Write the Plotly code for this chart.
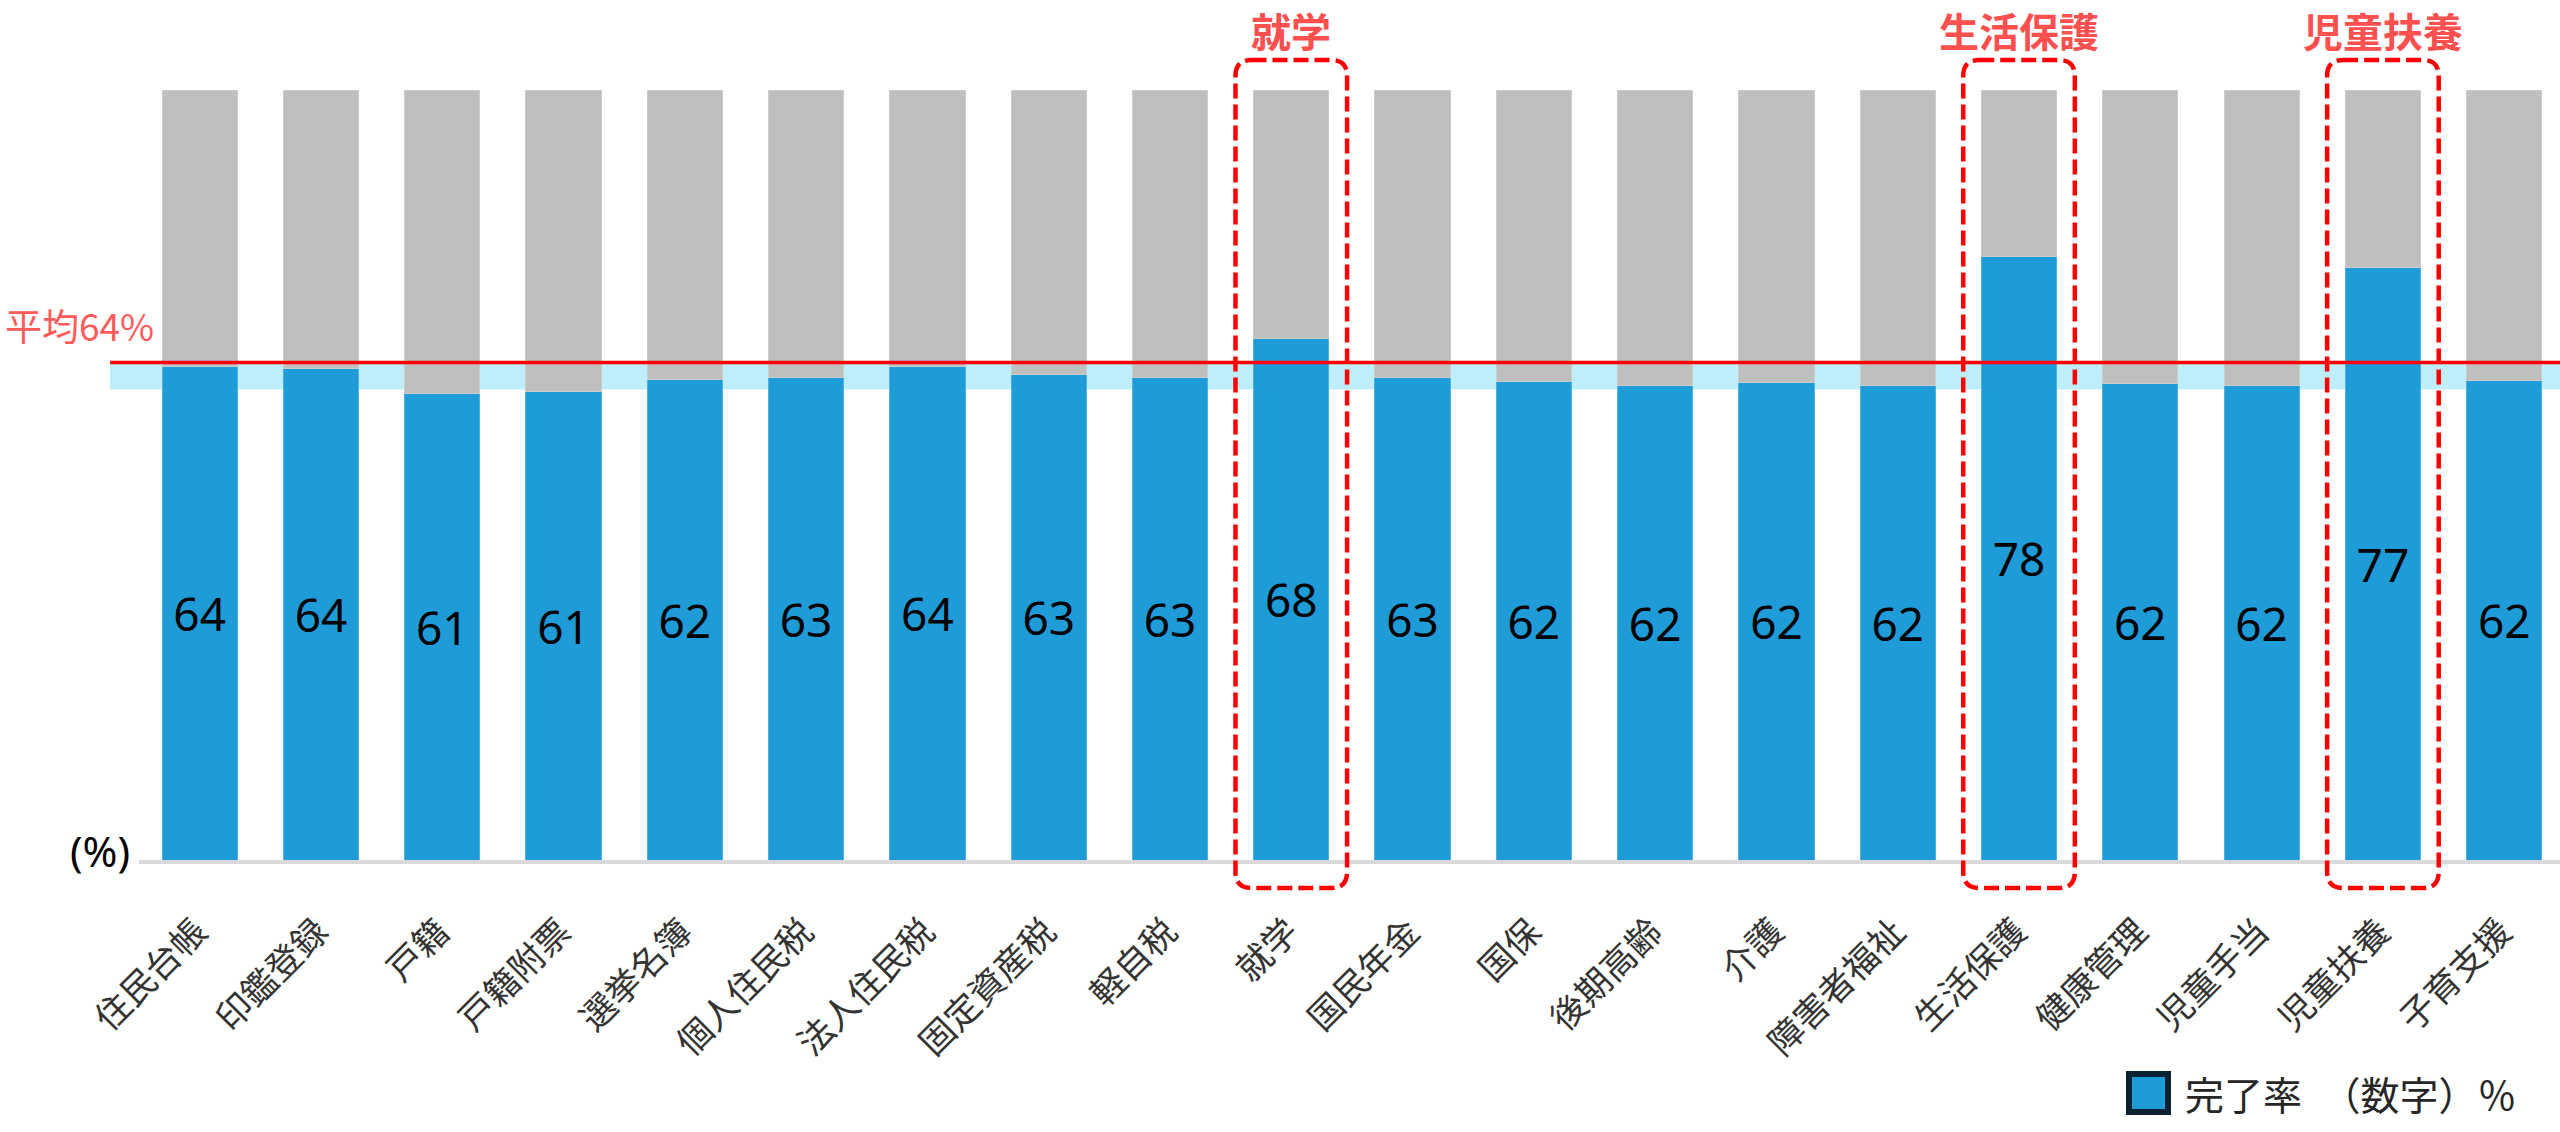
import plotly.graph_objects as go

# ---------------- data ----------------
categories = ["住民台帳", "印鑑登録", "戸籍", "戸籍附票", "選挙名簿", "個人住民税", "法人住民税",
              "固定資産税", "軽自税", "就学", "国民年金", "国保", "後期高齢", "介護", "障害者福祉",
              "生活保護", "健康管理", "児童手当", "児童扶養", "子育支援"]
completion = [64.1, 63.8, 60.6, 60.8, 62.4, 62.6, 64.1, 63.0, 62.7, 67.7,
              62.6, 62.2, 61.6, 62.0, 61.6, 78.4, 61.9, 61.6, 76.9, 62.3]
remaining = [100 - v for v in completion]
highlighted = ["就学", "生活保護", "児童扶養"]
avg_label = "平均64%"
avg_line = 64.6
avg_band = [61.1, 64.6]
legend_text = "完了率　（数字）％"
unit_text = "(%)"

# ---------------- geometry helpers (layout only) ----------------
W, H = 2560, 1132
ML, MR, MT, MB = 139, 0, 90, 272
PW, PH = W - ML - MR, H - MT - MB
XMIN, XMAX = -0.5, 19.46
YMIN, YMAX = 0, 100

def xp(i):  # category index -> paper x
    return (i - XMIN) / (XMAX - XMIN)

def yp(v):  # value -> paper y
    return (v - YMIN) / (YMAX - YMIN)

def pxx(px):  # pixel x -> paper
    return (px - ML) / PW

def pxy(py):  # pixel y -> paper
    return (H - MB - py) / PH

BLUE = "#1F9BD7"
GRAY = "#BFBFBF"
RED = "#FF0000"
LABEL_RED = "#FF5050"

fig = go.Figure()
fig.add_trace(go.Bar(
    x=categories, y=completion, marker=dict(color=BLUE, line=dict(width=1, color="#4FB0E0")),
    texttemplate="%{y:.0f}", textposition="inside", insidetextanchor="middle",
    textangle=0, constraintext="none",
    textfont=dict(family="Noto Sans", size=46, color="#000000"),
    showlegend=False, name="完了率"))
fig.add_trace(go.Bar(
    x=categories, y=remaining, marker=dict(color=GRAY, line=dict(width=1, color="#CCCCCC")),
    showlegend=False, hoverinfo="skip", name="未完了"))

shapes = []
# light blue band (below bars)
shapes.append(dict(type="rect", xref="paper", yref="paper",
                   x0=pxx(110), x1=1, y0=yp(avg_band[0]), y1=yp(avg_band[1]),
                   fillcolor="#BDEEFA", line=dict(width=0), layer="below"))
# average line
shapes.append(dict(type="line", xref="paper", yref="paper",
                   x0=pxx(110), x1=1, y0=yp(avg_line), y1=yp(avg_line),
                   line=dict(color=RED, width=3.5), layer="above"))

# dashed rounded boxes around highlighted categories
half = 0.46
for name in highlighted:
    i = categories.index(name)
    x0, x1 = xp(i - half), xp(i + half)
    y1, y0 = pxy(60), pxy(888)
    rxp = 16 / PW
    ryp = 16 / PH
    path = (f"M {x0 + rxp},{y1} L {x1 - rxp},{y1} Q {x1},{y1} {x1},{y1 - ryp} "
            f"L {x1},{y0 + ryp} Q {x1},{y0} {x1 - rxp},{y0} "
            f"L {x0 + rxp},{y0} Q {x0},{y0} {x0},{y0 + ryp} "
            f"L {x0},{y1 - ryp} Q {x0},{y1} {x0 + rxp},{y1} Z")
    shapes.append(dict(type="path", xref="paper", yref="paper", path=path,
                       line=dict(color=RED, width=4.5, dash="15px,6px"),
                       fillcolor="rgba(0,0,0,0)", layer="above"))

# legend swatch
shapes.append(dict(type="rect", xref="paper", yref="paper",
                   x0=pxx(2129), x1=pxx(2168), y0=pxy(1112), y1=pxy(1074),
                   fillcolor=BLUE, line=dict(color="#0B2233", width=6)))

annotations = []
for name in highlighted:
    i = categories.index(name)
    annotations.append(dict(x=xp(i), y=pxy(30), xref="paper", yref="paper",
                            text=f"<b>{name}</b>", showarrow=False,
                            xanchor="center", yanchor="middle",
                            font=dict(family="Noto Sans CJK JP", size=40, color=LABEL_RED)))
annotations.append(dict(x=pxx(3), y=pxy(325), xref="paper", yref="paper", text=avg_label,
                        showarrow=False, xanchor="left", yanchor="middle",
                        font=dict(family="Noto Sans CJK JP", size=37, color="#FF5B5B")))
annotations.append(dict(x=pxx(100), y=pxy(850), xref="paper", yref="paper", text=unit_text,
                        showarrow=False, xanchor="center", yanchor="middle",
                        font=dict(family="Noto Sans", size=42, color="#000000")))
annotations.append(dict(x=pxx(2183), y=pxy(1093), xref="paper", yref="paper", text=legend_text,
                        showarrow=False, xanchor="left", yanchor="middle",
                        font=dict(family="Noto Sans CJK JP", size=39, color="#262626")))

fig.update_layout(
    width=W, height=H,
    margin=dict(l=ML, r=MR, t=MT, b=MB, pad=0),
    barmode="stack", bargap=0.38,
    paper_bgcolor="white", plot_bgcolor="rgba(0,0,0,0)",
    shapes=shapes, annotations=annotations,
    xaxis=dict(range=[XMIN, XMAX], showgrid=False, zeroline=False,
               showline=True, linecolor="#D9D9D9", linewidth=4,
               tickangle=-45, ticks="", ticklabelstandoff=33, ticklabelshift=-3,
               tickfont=dict(family="Noto Sans CJK JP", size=35, color="#333333"),
               fixedrange=True),
    yaxis=dict(range=[YMIN, YMAX], visible=False, showgrid=False, zeroline=False,
               fixedrange=True),
    showlegend=False,
)

fig.write_html("out.html", config={"displayModeBar": False},
               post_script="document.body.style.margin='0';document.body.style.overflow='hidden';")
